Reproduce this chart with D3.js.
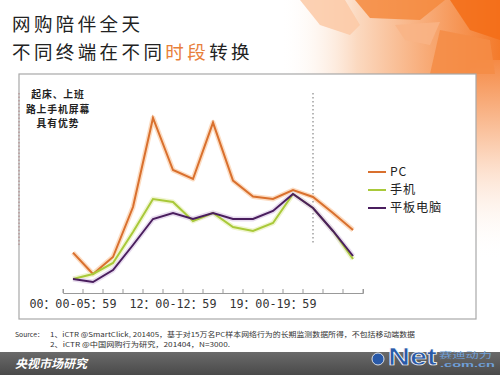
<!DOCTYPE html>
<html><head><meta charset="utf-8">
<script src="https://cdn.jsdelivr.net/npm/d3@7"></script>
<style>html,body{margin:0;padding:0;background:#fff;overflow:hidden}svg{display:block}</style>
</head><body>
<svg id="c" width="500" height="375"></svg>
<script>
const categories = ["00：00-05：59","06：00-07：59","08：00-08：59","09：00-09：59","10：00-11：59",
  "12：00-12：59","13：00-13：59","14：00-15：59","16：00-16：59","17：00-18：59",
  "19：00-19：59","20：00-20：59","21：00-21：59","22：00-22：59","23：00-23：59"];
const shownTicks = ["00：00-05：59","12：00-12：59","19：00-19：59"];
const pcValues     = [20.2, 9.5, 18, 43, 87.5, 61.5, 57, 85.2, 56.2, 48.2, 47, 51.5, 48, 40, 31.5];
const mobileValues = [7, 9.5, 15, 30.5, 47, 45.5, 36, 40, 33, 31, 35, 49.5, 42.5, 31, 17];
const tabletValues = [7, 5.5, 11.5, 24, 37, 40, 37, 40, 37, 37, 41, 49.5, 42.5, 31, 18.5];
const seriesNames  = ["PC","手机","平板电脑"];
const seriesColors = ["#d9702e","#a9c93a","#4a1e5e"];
const glowColors   = ["#fcdcc2","#f0f5d0","#e8dcef"];
const titleLine1 = "网购陪伴全天";
const titleLine2 = [["不同终端在不同",false],["时段",true],["转换",false]];
const noteLines = ["起床、上班","路上手机屏幕","具有优势"];
const sourceLines = ["1、iCTR @SmartClick, 201405，基于对15万名PC样本网络行为的长期监测数据所得，不包括移动端数据",
                     "2、iCTR @中国网购行为研究，201404，N=3000."];
const focusCategory = "21：00-21：59";

const svg = d3.select("#c");
const defs = svg.append("defs");
const g1 = defs.append("linearGradient").attr("id","orng").attr("x1","0").attr("y1","0").attr("x2","1").attr("y2","0");
g1.append("stop").attr("offset","0").attr("stop-color","#fff").attr("stop-opacity",0);
g1.append("stop").attr("offset","0.35").attr("stop-color","#fbd9c0");
g1.append("stop").attr("offset","1").attr("stop-color","#f47a2a");
const g2 = defs.append("linearGradient").attr("id","rside").attr("x1","0").attr("y1","0").attr("x2","0").attr("y2","1");
g2.append("stop").attr("offset","0").attr("stop-color","#f58a45");
g2.append("stop").attr("offset","0.5").attr("stop-color","#fcd9c2");
g2.append("stop").attr("offset","1").attr("stop-color","#fff").attr("stop-opacity",0);
const g3 = defs.append("linearGradient").attr("id","band").attr("x1","0").attr("y1","0").attr("x2","0").attr("y2","1");
g3.append("stop").attr("offset","0").attr("stop-color","#6a6a6a");
g3.append("stop").attr("offset","1").attr("stop-color","#4a4a4a");

// decorative background
svg.append("rect").attr("x",280).attr("y",0).attr("width",220).attr("height",80).attr("fill","url(#orng)");
svg.append("rect").attr("x",470).attr("y",60).attr("width",30).attr("height",200).attr("fill","url(#rside)");
const polys = [
  [[355,0],[445,0],[420,20],[370,18]],
  [[450,0],[500,0],[500,40],[470,30]],
  [[395,25],[440,22],[430,45],[405,40]],
  [[300,0],[345,0],[360,25],[350,35],[320,25]],
  [[440,30],[490,40],[495,74],[430,74]]
];
const polyFill = ["#f58a3e","#f36d18","#f9b486","#fbc9a6","#f58c45"];
svg.selectAll("polygon.deco").data(polys).join("polygon").attr("class","deco")
  .attr("points",d=>d.map(p=>p.join(",")).join(" ")).attr("fill",(d,i)=>polyFill[i]).attr("opacity",0.85);

// title
svg.append("text").attr("x",12).attr("y",31).attr("font-family","Noto Sans CJK SC").attr("font-size",18.5)
  .attr("letter-spacing",3.4).attr("fill","#222").text(titleLine1);
const t2 = svg.append("text").attr("x",12).attr("y",58.5).attr("font-family","Noto Sans CJK SC").attr("font-size",18.5)
  .attr("letter-spacing",3.4).attr("fill","#222");
titleLine2.forEach(([s,hi])=>t2.append("tspan").attr("fill",hi?"#e8803a":"#222").text(s));

// panel
svg.append("rect").attr("x",19).attr("y",74).attr("width",457).attr("height",245)
  .attr("fill","#fff").attr("stroke","#a8a8a8").attr("stroke-width",1.2);

// scales
const x = d3.scaleBand().domain(categories).range([63,363]).paddingInner(0).paddingOuter(0);
const y = d3.scaleLinear().domain([0,100]).range([293,93]);
const cx = d => x(d) + x.bandwidth()/2;

// dotted guide lines
svg.append("line").attr("x1",19).attr("x2",19).attr("y1",y(100)).attr("y2",y(24))
  .attr("stroke","#b59090").attr("stroke-dasharray","1.5,2").attr("stroke-width",1.2);
svg.append("line").attr("x1",cx(focusCategory)).attr("x2",cx(focusCategory)).attr("y1",y(100)).attr("y2",y(24))
  .attr("stroke","#888").attr("stroke-dasharray","1.5,2.5").attr("stroke-width",1.2);

// axis
const axis = d3.axisBottom(x).tickSize(-4).tickFormat(d=>shownTicks.includes(d)?d:"");
const ag = svg.append("g").attr("transform","translate(0,293)").call(axis);
ag.select(".domain").attr("stroke","#999");
ag.selectAll(".tick line").remove();
const edges = categories.map(c=>x(c)).concat([x(categories[categories.length-1])+x.bandwidth()]);
ag.selectAll("line.edge").data(edges).join("line").attr("class","edge")
  .attr("x1",d=>d).attr("x2",d=>d).attr("y1",0).attr("y2",-4).attr("stroke","#999");
ag.selectAll(".tick text").attr("font-family","DejaVu Sans Mono, Noto Sans CJK SC").attr("font-size",13)
  .attr("fill","#333").attr("dy","0.9em");
ag.selectAll(".tick text").each(function(d){ if(shownTicks.includes(d)) d3.select(this).attr("textLength",87).attr("lengthAdjust","spacingAndGlyphs"); });

// lines
const allSeries = [pcValues, mobileValues, tabletValues];
const line = d3.line().x((d,i)=>cx(categories[i])).y(d=>y(d));
allSeries.forEach((vals,i)=>{
  svg.append("path").datum(vals).attr("d",line).attr("fill","none")
    .attr("stroke",glowColors[i]).attr("stroke-width",5).attr("stroke-linejoin","round");
});
allSeries.forEach((vals,i)=>{
  svg.append("path").datum(vals).attr("d",line).attr("fill","none")
    .attr("stroke",seriesColors[i]).attr("stroke-width",2).attr("stroke-linejoin","miter");
});

// annotation
svg.append("g").selectAll("text").data(noteLines).join("text")
  .attr("x",58).attr("y",(d,i)=>98+i*14.5).attr("text-anchor","middle")
  .attr("font-family","Noto Sans CJK SC").attr("font-weight","bold").attr("font-size",9.8)
  .attr("letter-spacing",0.9).attr("fill","#222")
  .text(d=>d);

// legend
const lg = svg.append("g").selectAll("g").data(seriesNames).join("g")
  .attr("transform",(d,i)=>`translate(368,${172+i*18})`);
lg.append("line").attr("x1",0).attr("x2",18).attr("y1",0).attr("y2",0)
  .attr("stroke",(d,i)=>seriesColors[i]).attr("stroke-width",2);
lg.append("text").attr("x",22).attr("y",0).attr("dy","0.35em")
  .attr("font-family","Noto Sans CJK SC").attr("font-size",12.2).attr("letter-spacing",0.8).attr("fill","#222").text(d=>d);

// source
svg.append("text").attr("x",15).attr("y",337).attr("font-family","Noto Sans CJK SC").attr("font-size",6.8)
  .attr("fill","#333").text("Source：");
svg.append("g").selectAll("text").data(sourceLines).join("text")
  .attr("x",50).attr("y",(d,i)=>337+i*10).attr("font-family","Noto Sans CJK SC").attr("font-size",6.8)
  .attr("fill","#333").attr("textLength",(d,i)=>i===0?365:180).attr("lengthAdjust","spacingAndGlyphs").text(d=>d);

// bottom band
svg.append("rect").attr("x",0).attr("y",352).attr("width",500).attr("height",23).attr("fill","url(#band)");
svg.append("text").attr("x",15).attr("y",368).attr("font-family","Noto Sans CJK SC").attr("font-weight","bold")
  .attr("font-style","italic").attr("font-size",12).attr("fill","#fff").text("央视市场研究");
// logo
svg.append("circle").attr("cx",378).attr("cy",359).attr("r",6).attr("fill","#2a5aa8").attr("stroke","#fff").attr("stroke-width",0.8);
svg.append("text").attr("x",388).attr("y",365).attr("font-family","Liberation Sans").attr("font-weight","bold")
  .attr("font-size",24).attr("fill","#2a5aa8").attr("stroke","#fff").attr("stroke-width",0.7)
  .attr("textLength",49).attr("lengthAdjust","spacingAndGlyphs").text("Net");
svg.append("text").attr("x",439).attr("y",358).attr("font-family","Noto Sans CJK SC")
  .attr("font-size",8).attr("fill","#6f9fd8").attr("textLength",53).attr("lengthAdjust","spacingAndGlyphs").text("赛迪动力");
svg.append("text").attr("x",440).attr("y",367).attr("font-family","Liberation Sans").attr("font-weight","bold")
  .attr("font-size",8).attr("fill","#6f9fd8").attr("textLength",55).attr("lengthAdjust","spacingAndGlyphs").text(".com.cn");
</script>
</body></html>
